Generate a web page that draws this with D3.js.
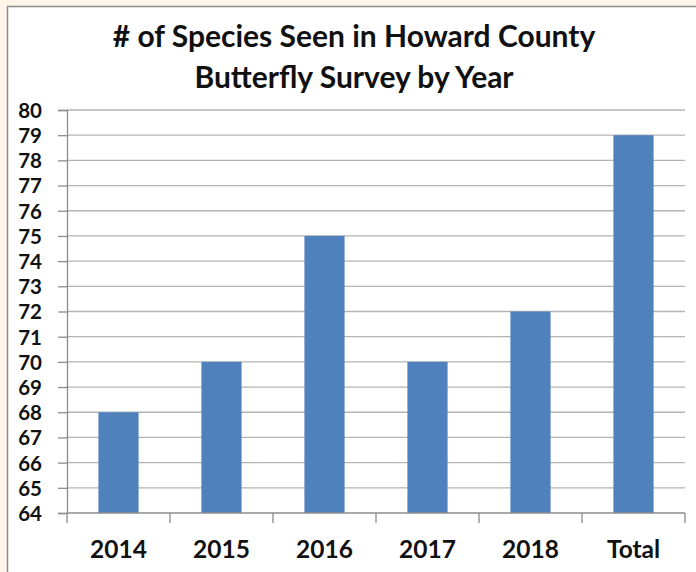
<!DOCTYPE html>
<html lang="en">
<head>
  <meta charset="UTF-8">
  <title>Butterfly Survey by Year</title>
  <style>
    body {
      margin: 0;
      background: #fdf5e8;
      font-family: Lato, "Open Sans", sans-serif;
    }
    .grid line {
      stroke: #b3b3b3;
      stroke-width: 1.3px;
    }
    .tick text {
      font-weight: bold;
      fill: #111;
    }
  </style>
  <script src="https://d3js.org/d3.v7.min.js"></script>
</head>
<body>
  <div id="chart"></div>
  <script>
    // Data
    const years = ["2014", "2015", "2016", "2017", "2018", "Total"];
    const speciesCounts = [68, 70, 75, 70, 72, 79];
    const yTicks = d3.range(64, 81);
    const titleLines = ["# of Species Seen in Howard County", "Butterfly Survey by Year"];

    const width = 696;
    const height = 572;
    const margin = {top: 110, right: 11, bottom: 59, left: 67};

    const svg = d3.select("#chart")
      .append("svg")
      .attr("width", width)
      .attr("height", height);

    // white panel with a gray frame line at top and left
    svg.append("rect")
      .attr("x", 7.5).attr("y", 6.5)
      .attr("width", width).attr("height", height)
      .attr("fill", "#fff")
      .attr("stroke", "#8c8c8c")
      .attr("stroke-width", 1.5);

    const x = d3.scaleBand()
      .domain(years)
      .range([margin.left, width - margin.right])
      .paddingInner(0.61)
      .paddingOuter(0.305);

    const y = d3.scaleLinear()
      .domain([64, 80])
      .range([height - margin.bottom, margin.top]);

    // gridlines
    svg.append("g")
      .attr("class", "grid")
      .selectAll("line")
      .data(yTicks.slice(1))
      .join("line")
      .attr("x1", margin.left)
      .attr("x2", width - margin.right)
      .attr("y1", d => y(d))
      .attr("y2", d => y(d));

    // y axis
    const yAxis = svg.append("g")
      .attr("transform", `translate(${margin.left},0)`)
      .call(d3.axisLeft(y).tickValues(yTicks).tickFormat(d3.format("d")).tickSize(9).tickPadding(16))
      .attr("font-family", null)
      .attr("font-size", null);
    yAxis.selectAll("line, path").attr("stroke", "#8c8c8c").attr("stroke-width", 1.3);
    yAxis.selectAll("text")
      .style("font-family", "Lato, sans-serif")
      .style("font-size", "20.5px")
      .attr("dy", "0.36em");

    // bars
    svg.append("g")
      .selectAll("rect")
      .data(speciesCounts)
      .join("rect")
      .attr("x", (d, i) => x(years[i]))
      .attr("y", d => y(d))
      .attr("width", x.bandwidth())
      .attr("height", d => y(64) - y(d))
      .attr("fill", "#4f81bd");

    // x axis with ticks at category boundaries
    const xEdges = d3.scaleLinear().domain([0, years.length]).range([margin.left, width - margin.right]);
    const xAxis = svg.append("g")
      .attr("transform", `translate(0,${height - margin.bottom})`);
    xAxis.append("line")
      .attr("x1", margin.left).attr("x2", width - margin.right)
      .attr("stroke", "#8c8c8c").attr("stroke-width", 1.3);
    xAxis.selectAll("line.edge")
      .data(d3.range(years.length + 1))
      .join("line")
      .attr("class", "edge")
      .attr("x1", d => xEdges(d)).attr("x2", d => xEdges(d))
      .attr("y1", 0).attr("y2", 10)
      .attr("stroke", "#8c8c8c").attr("stroke-width", 1.3);
    xAxis.selectAll("text")
      .data(years)
      .join("text")
      .attr("x", d => x(d) + x.bandwidth() / 2)
      .attr("y", 45)
      .attr("text-anchor", "middle")
      .style("font-size", "24.5px")
      .style("font-weight", "bold")
      .attr("fill", "#111")
      .text(d => d);

    // title
    svg.append("g")
      .selectAll("text")
      .data(titleLines)
      .join("text")
      .attr("x", 354)
      .attr("y", (d, i) => 47 + i * 41)
      .attr("text-anchor", "middle")
      .style("font-size", "30px")
      .style("font-weight", "bold")
      .attr("fill", "#111")
      .text(d => d);
  </script>
</body>
</html>
